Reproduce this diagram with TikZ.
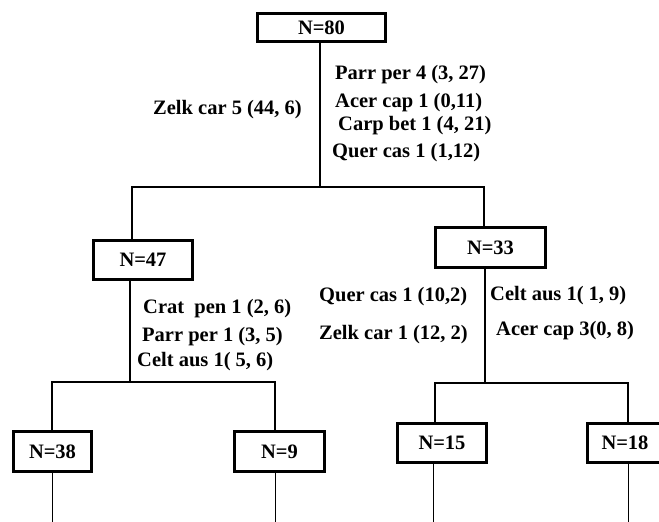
\documentclass[tikz,border=0pt]{standalone}
\usepackage{fontspec}
\setmainfont{Liberation Serif}
\usetikzlibrary{positioning}

\begin{document}
\begin{tikzpicture}[
    x=1pt, y=-1pt,
    grp/.style={rectangle, draw, line width=2.6pt, inner sep=0pt, font=\bfseries\fontsize{20.5}{23}\selectfont},
    rule/.style={anchor=west, inner sep=0pt, font=\bfseries\fontsize{20.5}{23}\selectfont},
    edge/.style={line width=1.6pt},
    leaf/.style={line width=0.9pt},
]
\useasboundingbox (0,0) rectangle (659,522);
\clip (0,0) rectangle (659,522);

% Groups (boxes) of the tree
\node[grp, minimum width=128pt, minimum height=28pt] (n80) at (321.5,27.5) {N=80};
\node[grp, minimum width=99pt, minimum height=39pt] (n47) at (143,260) {N=47};
\node[grp, minimum width=110pt, minimum height=40pt] (n33) at (490.5,247.5) {N=33};
\node[grp, minimum width=78pt, minimum height=40pt] (n38) at (52.5,451.5) {N=38};
\node[grp, minimum width=90pt, minimum height=40pt] (n9) at (279.5,451.5) {N=9};
\node[grp, minimum width=89pt, minimum height=39pt] (n15) at (442,443) {N=15};
\node[grp, minimum width=75pt, minimum height=39pt] (n18) at (625,443) {N=18};

% Split points
\coordinate (s80) at (320,187);
\coordinate (s80l) at (132,187);
\coordinate (s80r) at (484,187);
\coordinate (s47) at (130,382);
\coordinate (s47l) at (52,382);
\coordinate (s47r) at (275,382);
\coordinate (s33) at (485,383);
\coordinate (s33l) at (435,383);
\coordinate (s33r) at (628,383);
\coordinate (e38) at (52,522);
\coordinate (e9) at (275,522);
\coordinate (e15) at (433,522);
\coordinate (e18) at (628,522);

% Branches
\draw[edge] (n80.south -| s80) -- (s80);
\draw[edge] (n47.north -| s80l) -- (s80l) -- (s80r) -- (n33.north -| s80r);
\draw[edge] (n47.south -| s47) -- (s47);
\draw[edge] (n38.north -| s47l) -- (s47l) -- (s47r) -- (n9.north -| s47r);
\draw[edge] (n33.south -| s33) -- (s33);
\draw[edge] (n15.north -| s33l) -- (s33l) -- (s33r) -- (n18.north -| s33r);
\draw[leaf] (n38.south -| e38) -- (e38);
\draw[leaf] (n9.south -| e9) -- (e9);
\draw[leaf] (n15.south -| e15) -- (e15);
\draw[leaf] (n18.south -| e18) -- (e18);

% Indicator species at each split
\node[rule] (z5) at (153,110) {Zelk car 5 (44, 6)};
\node[rule] (p4) at (335,75) {Parr per 4 (3, 27)};
\node[rule] (a1) at (335,103) {Acer cap 1 (0,11)};
\node[rule] (c1) at (338,126) {Carp bet 1 (4, 21)};
\node[rule] (q1) at (332,153) {Quer cas 1 (1,12)};
\node[rule] (cp) at (143,309) {Crat\ \ pen 1 (2, 6)};
\node[rule] (pp) at (142,337) {Parr per 1 (3, 5)};
\node[rule] (ca) at (137,362) {Celt aus 1( 5, 6)};
\node[rule] (qc) at (319,297) {Quer cas 1 (10,2)};
\node[rule] (zc) at (319,335) {Zelk car 1 (12, 2)};
\node[rule] (cl) at (490,296) {Celt aus 1( 1, 9)};
\node[rule] (ac) at (496,331) {Acer cap 3(0, 8)};

\end{tikzpicture}
\end{document}
